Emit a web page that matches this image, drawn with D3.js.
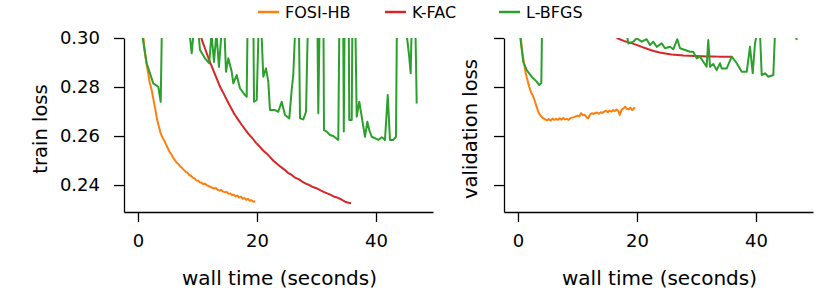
<!DOCTYPE html>
<html>
<head>
<meta charset="utf-8">
<script src="https://cdn.jsdelivr.net/npm/d3@7"></script>
<style>
  body { margin: 0; background: #fff; }
  text { font-family: "DejaVu Sans", sans-serif; fill: #000; }
</style>
</head>
<body>
<div id="chart"></div>
<script>
// values, [wall time (s), loss]; 0.302 = above the clipped top
const seriesNames = ["FOSI-HB", "K-FAC", "L-BFGS"];
const seriesColors = ["#ff7f0e", "#d62728", "#2ca02c"];
const xTicks = [0, 20, 40];
const yTicks = [0.24, 0.26, 0.28, 0.30];
const yTickLabels = ["0.24", "0.26", "0.28", "0.30"];

const fosiTrain = [[0.85,0.302],[1.1,0.2950],[1.4,0.2900],[1.7,0.2858],[2.0,0.2815],[2.3,0.2788],[2.6,0.2748],[2.9,0.2712],[3.2,0.2668],[3.5,0.2640],[3.8,0.2612],[4.1,0.2594],[4.4,0.2583],[4.7,0.2566],[5.0,0.2551],[5.3,0.2535],[5.6,0.2526],[5.9,0.2512],[6.2,0.2502],[6.5,0.2491],[6.8,0.2486],[7.1,0.2476],[7.4,0.2470],[7.7,0.2462],[8.0,0.2455],[8.3,0.2451],[8.6,0.2441],[8.9,0.2438],[9.2,0.2430],[9.5,0.2427],[9.8,0.2419],[10.1,0.2418],[10.4,0.2411],[10.7,0.2409],[11.0,0.2404],[11.3,0.2405],[11.6,0.2398],[11.9,0.2396],[12.2,0.2392],[12.5,0.2389],[12.8,0.2386],[13.1,0.2388],[13.4,0.2380],[13.7,0.2377],[14.0,0.2380],[14.3,0.2373],[14.6,0.2371],[14.9,0.2372],[15.2,0.2364],[15.5,0.2366],[15.8,0.2359],[16.1,0.2361],[16.4,0.2354],[16.7,0.2357],[17.0,0.2349],[17.3,0.2353],[17.6,0.2344],[17.9,0.2347],[18.2,0.2340],[18.5,0.2343],[18.8,0.2336],[19.1,0.2338],[19.4,0.2332],[19.7,0.2334]];
const kfacTrain = [[10.4,0.302],[10.8,0.2988],[11.4,0.2948],[12.0,0.2908],[12.6,0.2872],[13.2,0.2836],[13.8,0.2801],[14.4,0.2773],[15.0,0.2744],[15.6,0.2716],[16.2,0.2690],[16.8,0.2668],[17.4,0.2647],[18.0,0.2627],[18.6,0.2608],[19.2,0.2592],[19.8,0.2573],[20.4,0.2558],[21.0,0.2542],[21.6,0.2529],[22.2,0.2514],[22.8,0.2498],[23.4,0.2486],[24.0,0.2474],[24.6,0.2463],[25.2,0.2450],[25.8,0.2442],[26.4,0.2430],[27.0,0.2424],[27.6,0.2414],[28.2,0.2406],[28.8,0.2400],[29.4,0.2392],[30.0,0.2387],[30.6,0.2379],[31.2,0.2372],[31.8,0.2366],[32.4,0.2360],[33.0,0.2352],[33.6,0.2348],[34.2,0.2341],[34.8,0.2332],[35.4,0.2328],[35.8,0.2326]];
const lbfgsTrain = [[0.67,0.302],[1.46,0.2897],[2.57,0.2815],[3.41,0.2801],[3.82,0.2740],[4.0,0.302],[8.66,0.302],[9.03,0.2938],[9.33,0.302],[10.17,0.302],[10.42,0.2951],[11.26,0.2917],[11.98,0.2897],[12.35,0.302],[12.77,0.2902],[13.19,0.302],[13.61,0.2882],[14.03,0.302],[14.54,0.302],[14.79,0.2862],[15.18,0.2917],[15.75,0.2862],[16.02,0.2815],[16.59,0.2849],[17.14,0.2795],[17.98,0.2767],[18.27,0.2760],[18.4,0.302],[19.41,0.302],[19.5,0.2740],[19.95,0.2747],[20.25,0.302],[20.76,0.302],[21.06,0.2842],[21.51,0.2876],[21.9,0.2822],[22.18,0.2706],[23.03,0.2706],[23.58,0.2699],[24.15,0.2740],[24.71,0.2686],[25.43,0.2672],[25.83,0.2788],[26.1,0.2849],[26.39,0.302],[27.06,0.302],[27.23,0.2672],[27.78,0.2668],[28.24,0.2699],[28.52,0.302],[30.17,0.302],[30.3,0.2693],[30.5,0.302],[31.18,0.302],[31.26,0.2624],[31.71,0.2618],[32.27,0.2604],[32.82,0.2600],[33.66,0.2584],[33.83,0.302],[34.5,0.302],[34.59,0.2618],[34.71,0.302],[35.43,0.302],[35.51,0.2665],[35.92,0.2665],[36.02,0.302],[36.55,0.302],[36.76,0.2679],[37.19,0.2740],[37.6,0.2679],[37.87,0.2638],[38.15,0.2597],[38.54,0.2658],[38.87,0.2624],[39.28,0.2597],[39.83,0.2591],[40.39,0.2584],[40.96,0.2595],[41.23,0.2591],[41.51,0.2584],[41.97,0.2767],[42.35,0.2584],[42.91,0.2584],[43.36,0.2597],[43.5,0.302],[45.13,0.302],[45.55,0.2931],[45.83,0.2856],[45.97,0.302],[46.64,0.302],[46.84,0.2733]];

const fosiValid = [[0.4,0.302],[0.7,0.2945],[1.0,0.2900],[1.3,0.2855],[1.6,0.2828],[1.9,0.2800],[2.2,0.2778],[2.5,0.2765],[2.8,0.2745],[3.1,0.2722],[3.4,0.2700],[3.7,0.2686],[4.0,0.2677],[4.3,0.2672],[4.6,0.2667],[4.9,0.2664],[5.2,0.2669],[5.5,0.2663],[5.8,0.2671],[6.1,0.2666],[6.4,0.2670],[6.7,0.2666],[7.0,0.2672],[7.3,0.2667],[7.6,0.2673],[7.9,0.2668],[8.2,0.2670],[8.5,0.2666],[8.8,0.2673],[9.1,0.2675],[9.4,0.2677],[9.7,0.2680],[10.0,0.2683],[10.3,0.2680],[10.6,0.2693],[10.9,0.2685],[11.2,0.2687],[11.5,0.2678],[11.8,0.2672],[12.1,0.2688],[12.4,0.2693],[12.7,0.2690],[13.0,0.2694],[13.3,0.2696],[13.6,0.2691],[13.9,0.2697],[14.2,0.2694],[14.5,0.2700],[14.8,0.2703],[15.1,0.2697],[15.4,0.2704],[15.7,0.2699],[16.0,0.2706],[16.3,0.2702],[16.6,0.2708],[16.9,0.2700],[17.1,0.2686],[17.4,0.2707],[17.7,0.2712],[18.0,0.2720],[18.3,0.2711],[18.6,0.2709],[18.9,0.2716],[19.2,0.2706],[19.5,0.2714],[19.7,0.2713]];
const kfacValid = [[15.4,0.302],[16.2,0.3008],[16.9,0.2997],[17.8,0.2988],[18.8,0.2981],[19.8,0.2973],[20.8,0.2964],[21.8,0.2955],[22.8,0.2947],[23.8,0.2941],[24.8,0.2937],[25.8,0.2933],[26.8,0.2931],[27.8,0.2929],[28.8,0.2928],[29.8,0.2927],[30.8,0.2926],[31.8,0.2925],[32.8,0.2925],[33.8,0.2924],[34.8,0.2924],[35.8,0.2924]];
const lbfgsValid = [[0.3,0.302],[0.89,0.2903],[1.46,0.2869],[2.30,0.2842],[3.14,0.2822],[3.58,0.2808],[3.92,0.2815],[4.03,0.302],[18.27,0.302],[18.54,0.2978],[19.38,0.2985],[19.95,0.2999],[20.79,0.2985],[21.63,0.2995],[22.18,0.2971],[22.74,0.2985],[23.31,0.2964],[24.15,0.2978],[24.71,0.2958],[25.55,0.2964],[26.1,0.2954],[26.77,0.2995],[27.23,0.2958],[28.07,0.2951],[28.91,0.2944],[29.46,0.2944],[30.03,0.2917],[30.59,0.2924],[31.14,0.2903],[31.71,0.2883],[31.98,0.2992],[32.27,0.2883],[32.82,0.2894],[33.39,0.2869],[33.95,0.2897],[34.24,0.2876],[35.08,0.2876],[35.92,0.2924],[36.76,0.2897],[37.6,0.2862],[38.44,0.2862],[38.99,0.2964],[39.45,0.2856],[39.83,0.2978],[40.17,0.302],[40.67,0.302],[40.96,0.2849],[41.51,0.2856],[42.07,0.2842],[42.91,0.2849],[43.19,0.302],[46.64,0.302],[46.84,0.2992]];

const W = 830, H = 291;
const panels = [
  { left: 124, label: "train loss", labelX: 40, showY: true, series: [fosiTrain, kfacTrain, lbfgsTrain] },
  { left: 504, label: "validation loss", labelX: 470, showY: false, series: [fosiValid, kfacValid, lbfgsValid] }
];
const plotTop = 38, plotBottom = 212, pw = 309;
const ph = plotBottom - plotTop;

const svg = d3.select("#chart").append("svg")
    .attr("width", W)
    .attr("height", H);

panels.forEach((p, i) => {
  const x = d3.scaleLinear().domain([-2.35, 49.58]).range([0, pw]);
  const y = d3.scaleLinear().domain([0.229, 0.30]).range([ph, 0]);

  const g = svg.append("g").attr("transform", "translate(" + p.left + "," + plotTop + ")");

  g.append("clipPath").attr("id", "clip" + i)
    .append("rect").attr("x", 0).attr("y", 0).attr("width", pw).attr("height", ph);

  const line = d3.line().x(d => x(d[0])).y(d => y(d[1]));
  p.series.forEach((s, k) => {
    g.append("path")
      .datum(s)
      .attr("clip-path", "url(#clip" + i + ")")
      .attr("fill", "none")
      .attr("stroke", seriesColors[k])
      .attr("stroke-width", 2)
      .attr("stroke-linejoin", "round")
      .attr("d", line);
  });

  // axes, matplotlib-like
  const ax = g.append("g")
    .attr("transform", "translate(0," + ph + ")")
    .call(d3.axisBottom(x).tickValues(xTicks).tickSize(10).tickPadding(12).tickSizeOuter(0));
  const ay = g.append("g")
    .call(d3.axisLeft(y).tickValues(yTicks).tickSize(10).tickPadding(14).tickSizeOuter(0)
      .tickFormat((d, j) => p.showY ? yTickLabels[j] : ""));
  [ax, ay].forEach(a => {
    a.selectAll("path, line").attr("stroke", "#000").attr("stroke-width", 1.3);
    a.selectAll("text").style("font-size", "18px").style("font-family", "DejaVu Sans").attr("fill", "#000");
  });

  g.append("text")
    .attr("x", pw / 2 + 1).attr("y", 247)
    .attr("text-anchor", "middle")
    .style("font-size", "20px")
    .text("wall time (seconds)");

  svg.append("text")
    .attr("transform", "translate(" + (p.labelX + 7) + ",129) rotate(-90)")
    .attr("text-anchor", "middle")
    .style("font-size", "19.5px")
    .text(p.label);
});

// legend
const legendX = [258, 385, 499];
const lg = svg.append("g");
seriesNames.forEach((n, k) => {
  lg.append("line")
    .attr("x1", legendX[k]).attr("x2", legendX[k] + 21)
    .attr("y1", 12).attr("y2", 12)
    .attr("stroke", seriesColors[k]).attr("stroke-width", 2.5);
  lg.append("text")
    .attr("x", legendX[k] + 27).attr("y", 18)
    .style("font-size", "16px")
    .text(n);
});
</script>
</body>
</html>
